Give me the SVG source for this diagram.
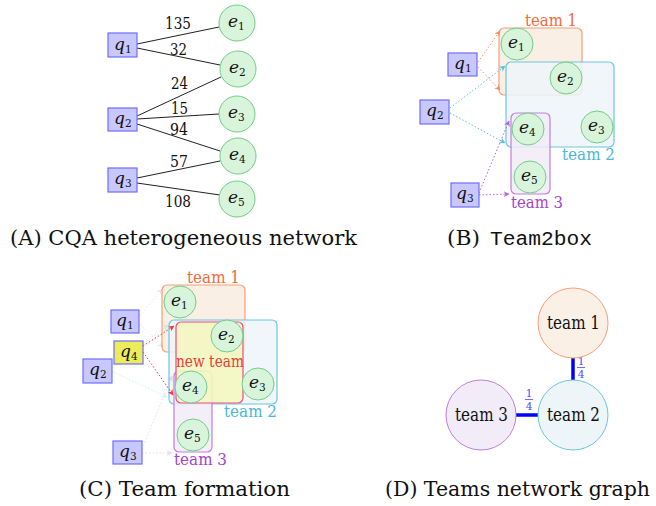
<svg xmlns="http://www.w3.org/2000/svg" width="656" height="506" viewBox="0 0 656 506">
<defs>
<style>
.q{fill:#c8c8ff;stroke:#6e6eff;stroke-width:1.2}
.qy{fill:#ecec5a;stroke:#6e6eff;stroke-width:1.2}
.e{fill:#d8f5dc;stroke:#72cc88;stroke-width:1}
.m{font-style:italic;font-size:17px;fill:#111}
.s{font-size:10.5px;font-style:normal}
.w{font-size:16px;fill:#111}
.edge{stroke:#222;stroke-width:1;fill:none}
.cap{font-size:21px;fill:#111}
.mono{font-size:20px;fill:#111}
.t1{fill:#f9efe4;stroke:#f4a07a;stroke-width:1.2}
.t2{fill:#eef5f9;fill-opacity:0.85;stroke:#6cc6e0;stroke-width:1.2}
.t3{fill:#f2ebf8;fill-opacity:0.85;stroke:#c07ee0;stroke-width:1.2}
.tn{fill:#f4f7c0;fill-opacity:0.9;stroke:#ee4e7a;stroke-width:1.2}
.tl{font-size:17px}
.l1{fill:#f26b3a}.l2{fill:#4bb8d8}.l3{fill:#a545cc}.ln{fill:#e8403a}
.d1{stroke:#f4906a;stroke-width:1;stroke-dasharray:1.5 2;fill:none}
.d2{stroke:#5bc0de;stroke-width:1;stroke-dasharray:1.5 2;fill:none}
.d3{stroke:#b466d8;stroke-width:1;stroke-dasharray:1.5 2;fill:none}
.dn{stroke:#ee3a3a;stroke-width:1;stroke-dasharray:1.5 2;fill:none}
.faint{opacity:0.25}
.big{stroke:#0000ff;stroke-width:3.5}
.fr{font-size:10.5px;fill:#4a4aff;text-anchor:middle}
.dt{font-size:18px;fill:#111}
</style>
<marker id="a1" viewBox="0 0 10 10" refX="9" refY="5" markerWidth="6" markerHeight="6" orient="auto" markerUnits="userSpaceOnUse"><path d="M0,0 L10,5 L0,10 L3,5 Z" fill="#f4906a"/></marker>
<marker id="a2" viewBox="0 0 10 10" refX="9" refY="5" markerWidth="6" markerHeight="6" orient="auto" markerUnits="userSpaceOnUse"><path d="M0,0 L10,5 L0,10 L3,5 Z" fill="#5bc0de"/></marker>
<marker id="a3" viewBox="0 0 10 10" refX="9" refY="5" markerWidth="6" markerHeight="6" orient="auto" markerUnits="userSpaceOnUse"><path d="M0,0 L10,5 L0,10 L3,5 Z" fill="#b466d8"/></marker>
<marker id="an" viewBox="0 0 10 10" refX="9" refY="5" markerWidth="6" markerHeight="6" orient="auto" markerUnits="userSpaceOnUse"><path d="M0,0 L10,5 L0,10 L3,5 Z" fill="#ee3a3a"/></marker>
</defs>
<rect width="656" height="506" fill="#fff"/>
<g font-family="DejaVu Serif, serif">

<!-- Panel A -->
<g id="A-connectors">
<line class="edge" x1="137" y1="44" x2="219" y2="27"/>
<line class="edge" x1="137" y1="48" x2="220" y2="65"/>
<line class="edge" x1="137" y1="116" x2="221" y2="77"/>
<line class="edge" x1="137" y1="119" x2="219" y2="114"/>
<line class="edge" x1="137" y1="124" x2="220" y2="151"/>
<line class="edge" x1="137" y1="178" x2="220" y2="161"/>
<line class="edge" x1="137" y1="183" x2="220" y2="195"/>
<text class="w" x="165" y="29" textLength="26" lengthAdjust="spacingAndGlyphs">135</text>
<text class="w" x="170" y="55" textLength="17" lengthAdjust="spacingAndGlyphs">32</text>
<text class="w" x="171" y="89" textLength="17" lengthAdjust="spacingAndGlyphs">24</text>
<text class="w" x="171" y="114" textLength="17" lengthAdjust="spacingAndGlyphs">15</text>
<text class="w" x="170" y="135" textLength="18" lengthAdjust="spacingAndGlyphs">94</text>
<text class="w" x="170" y="167" textLength="18" lengthAdjust="spacingAndGlyphs">57</text>
<text class="w" x="165" y="207" textLength="26" lengthAdjust="spacingAndGlyphs">108</text>
</g>
<g id="A-q1"><rect class="q" x="108" y="33" width="29" height="24"/><text class="m" x="114" y="50">q<tspan class="s" dy="3">1</tspan></text></g>
<g id="A-q2"><rect class="q" x="108" y="108" width="29" height="23"/><text class="m" x="114" y="124">q<tspan class="s" dy="3">2</tspan></text></g>
<g id="A-q3"><rect class="q" x="108" y="168" width="29" height="24"/><text class="m" x="114" y="184">q<tspan class="s" dy="3">3</tspan></text></g>
<g id="A-e1"><circle class="e" cx="237" cy="23" r="18"/><text class="m" x="228" y="27">e<tspan class="s" dy="3">1</tspan></text></g>
<g id="A-e2"><circle class="e" cx="238" cy="69" r="18"/><text class="m" x="229" y="73">e<tspan class="s" dy="3">2</tspan></text></g>
<g id="A-e3"><circle class="e" cx="237" cy="114" r="18"/><text class="m" x="228" y="118">e<tspan class="s" dy="3">3</tspan></text></g>
<g id="A-e4"><circle class="e" cx="238" cy="156" r="18"/><text class="m" x="229" y="160">e<tspan class="s" dy="3">4</tspan></text></g>
<g id="A-e5"><circle class="e" cx="237" cy="199" r="18"/><text class="m" x="228" y="203">e<tspan class="s" dy="3">5</tspan></text></g>
<text class="cap" x="10" y="245" textLength="347" lengthAdjust="spacingAndGlyphs">(A) CQA heterogeneous network</text>

<!-- Panel B -->
<g id="B-team1"><rect class="t1" x="499" y="28" width="83" height="67" rx="5"/><text class="tl l1" x="525" y="26" textLength="52" lengthAdjust="spacingAndGlyphs">team 1</text></g>
<g id="B-team2"><rect class="t2" x="506" y="62" width="108" height="85" rx="5"/><text class="tl l2" x="562" y="160" textLength="53" lengthAdjust="spacingAndGlyphs">team 2</text></g>
<g id="B-team3"><rect class="t3" x="511" y="113" width="39" height="81" rx="5"/><text class="tl l3" x="511" y="208" textLength="52" lengthAdjust="spacingAndGlyphs">team 3</text></g>
<g id="B-connectors">
<line class="d1" x1="478" y1="62" x2="500" y2="31" marker-end="url(#a1)"/>
<line class="d1" x1="478" y1="67" x2="500" y2="90" marker-end="url(#a1)"/>
<line class="d2" x1="450" y1="108" x2="505" y2="66" marker-end="url(#a2)"/>
<line class="d2" x1="450" y1="113" x2="505" y2="143" marker-end="url(#a2)"/>
<line class="d3" x1="479" y1="193" x2="509" y2="121" marker-end="url(#a3)"/>
<line class="d3" x1="479" y1="195" x2="509" y2="194" marker-end="url(#a3)"/>
</g>
<g id="B-q1"><rect class="q" x="448" y="53" width="29" height="23"/><text class="m" x="454" y="69">q<tspan class="s" dy="3">1</tspan></text></g>
<g id="B-q2"><rect class="q" x="420" y="100" width="29" height="24"/><text class="m" x="426" y="116">q<tspan class="s" dy="3">2</tspan></text></g>
<g id="B-q3"><rect class="q" x="451" y="183" width="28" height="24"/><text class="m" x="456" y="199">q<tspan class="s" dy="3">3</tspan></text></g>
<g id="B-e1"><circle class="e" cx="517" cy="44" r="16"/><text class="m" x="508" y="48">e<tspan class="s" dy="3">1</tspan></text></g>
<g id="B-e2"><circle class="e" cx="566" cy="78" r="16"/><text class="m" x="557" y="82">e<tspan class="s" dy="3">2</tspan></text></g>
<g id="B-e3"><circle class="e" cx="597" cy="127" r="16"/><text class="m" x="588" y="131">e<tspan class="s" dy="3">3</tspan></text></g>
<g id="B-e4"><circle class="e" cx="528" cy="129" r="16"/><text class="m" x="519" y="133">e<tspan class="s" dy="3">4</tspan></text></g>
<g id="B-e5"><circle class="e" cx="530" cy="177" r="16"/><text class="m" x="521" y="181">e<tspan class="s" dy="3">5</tspan></text></g>
<text class="cap" x="447" y="245" textLength="33" lengthAdjust="spacingAndGlyphs">(B)</text>
<text class="mono" x="490" y="245" textLength="102" lengthAdjust="spacingAndGlyphs" font-family="Liberation Mono, DejaVu Sans Mono, monospace">Team2box</text>

<!-- Panel C -->
<g id="C-team1"><rect class="t1" x="162" y="285" width="83" height="67" rx="5"/><text class="tl l1" x="187" y="283" textLength="53" lengthAdjust="spacingAndGlyphs">team 1</text></g>
<g id="C-team2"><rect class="t2" x="169" y="320" width="108" height="84" rx="5"/><text class="tl l2" x="224" y="417" textLength="53" lengthAdjust="spacingAndGlyphs">team 2</text></g>
<g id="C-team3"><rect class="t3" x="174" y="371" width="38" height="81" rx="5"/><text class="tl l3" x="174" y="465" textLength="53" lengthAdjust="spacingAndGlyphs">team 3</text></g>
<g id="C-newteam"><rect class="tn" x="176" y="322" width="67" height="81" rx="5"/><text class="tl ln" x="176" y="367" textLength="68" lengthAdjust="spacingAndGlyphs">new team</text></g>
<g id="C-connectors">
<g class="faint">
<line class="d1" x1="140" y1="316" x2="162" y2="289" marker-end="url(#a1)"/>
<line class="d1" x1="140" y1="324" x2="163" y2="347" marker-end="url(#a1)"/>
<line class="d2" x1="113" y1="368" x2="168" y2="325" marker-end="url(#a2)"/>
<line class="d2" x1="113" y1="372" x2="167" y2="397" marker-end="url(#a2)"/>
<line class="d3" x1="142" y1="449" x2="172" y2="376" marker-end="url(#a3)"/>
<line class="d3" x1="142" y1="453" x2="172" y2="453" marker-end="url(#a3)"/>
</g>
<line class="dn" x1="143" y1="346" x2="174" y2="326" marker-end="url(#an)"/>
<line class="dn" x1="143" y1="352" x2="173" y2="395" marker-end="url(#an)"/>
</g>
<g id="C-q1"><rect class="q" x="111" y="310" width="28" height="23"/><text class="m" x="116" y="326">q<tspan class="s" dy="3">1</tspan></text></g>
<g id="C-q4"><rect class="qy" x="114" y="341" width="29" height="23"/><text class="m" x="120" y="357">q<tspan class="s" dy="3">4</tspan></text></g>
<g id="C-q2"><rect class="q" x="83" y="359" width="29" height="24"/><text class="m" x="89" y="375">q<tspan class="s" dy="3">2</tspan></text></g>
<g id="C-q3"><rect class="q" x="113" y="441" width="29" height="23"/><text class="m" x="119" y="457">q<tspan class="s" dy="3">3</tspan></text></g>
<g id="C-e1"><circle class="e" cx="180" cy="302" r="16"/><text class="m" x="171" y="306">e<tspan class="s" dy="3">1</tspan></text></g>
<g id="C-e2"><circle class="e" cx="227" cy="336" r="16"/><text class="m" x="218" y="340">e<tspan class="s" dy="3">2</tspan></text></g>
<g id="C-e3"><circle class="e" cx="258" cy="384" r="16"/><text class="m" x="249" y="388">e<tspan class="s" dy="3">3</tspan></text></g>
<g id="C-e4"><circle class="e" cx="191" cy="387" r="16"/><text class="m" x="182" y="391">e<tspan class="s" dy="3">4</tspan></text></g>
<g id="C-e5"><circle class="e" cx="193" cy="435" r="16"/><text class="m" x="184" y="439">e<tspan class="s" dy="3">5</tspan></text></g>
<text class="cap" x="79" y="496" textLength="211" lengthAdjust="spacingAndGlyphs">(C) Team formation</text>

<!-- Panel D -->
<g id="D-connectors">
<line class="big" x1="573" y1="358" x2="573" y2="380"/>
<line class="big" x1="516" y1="415" x2="538" y2="415"/>
<text class="fr" x="581" y="365">1</text>
<line x1="577" y1="367.5" x2="585" y2="367.5" stroke="#4a4aff" stroke-width="0.8"/>
<text class="fr" x="581" y="378">4</text>
<text class="fr" x="529" y="397">1</text>
<line x1="525" y1="399.5" x2="533" y2="399.5" stroke="#4a4aff" stroke-width="0.8"/>
<text class="fr" x="529" y="410">4</text>
</g>
<g id="D-team1"><circle cx="573" cy="323" r="35" fill="#fbf0e6" stroke="#f4a07a" stroke-width="1"/><text class="dt" x="547" y="329" textLength="53" lengthAdjust="spacingAndGlyphs">team 1</text></g>
<g id="D-team2"><circle cx="573" cy="415" r="35" fill="#edf5f8" stroke="#6cc6e0" stroke-width="1"/><text class="dt" x="547" y="421" textLength="53" lengthAdjust="spacingAndGlyphs">team 2</text></g>
<g id="D-team3"><circle cx="481" cy="415" r="35" fill="#f2ebf8" stroke="#c07ee0" stroke-width="1"/><text class="dt" x="455" y="421" textLength="53" lengthAdjust="spacingAndGlyphs">team 3</text></g>
<text class="cap" x="385" y="496" textLength="265" lengthAdjust="spacingAndGlyphs">(D) Teams network graph</text>
</g>
</svg>
